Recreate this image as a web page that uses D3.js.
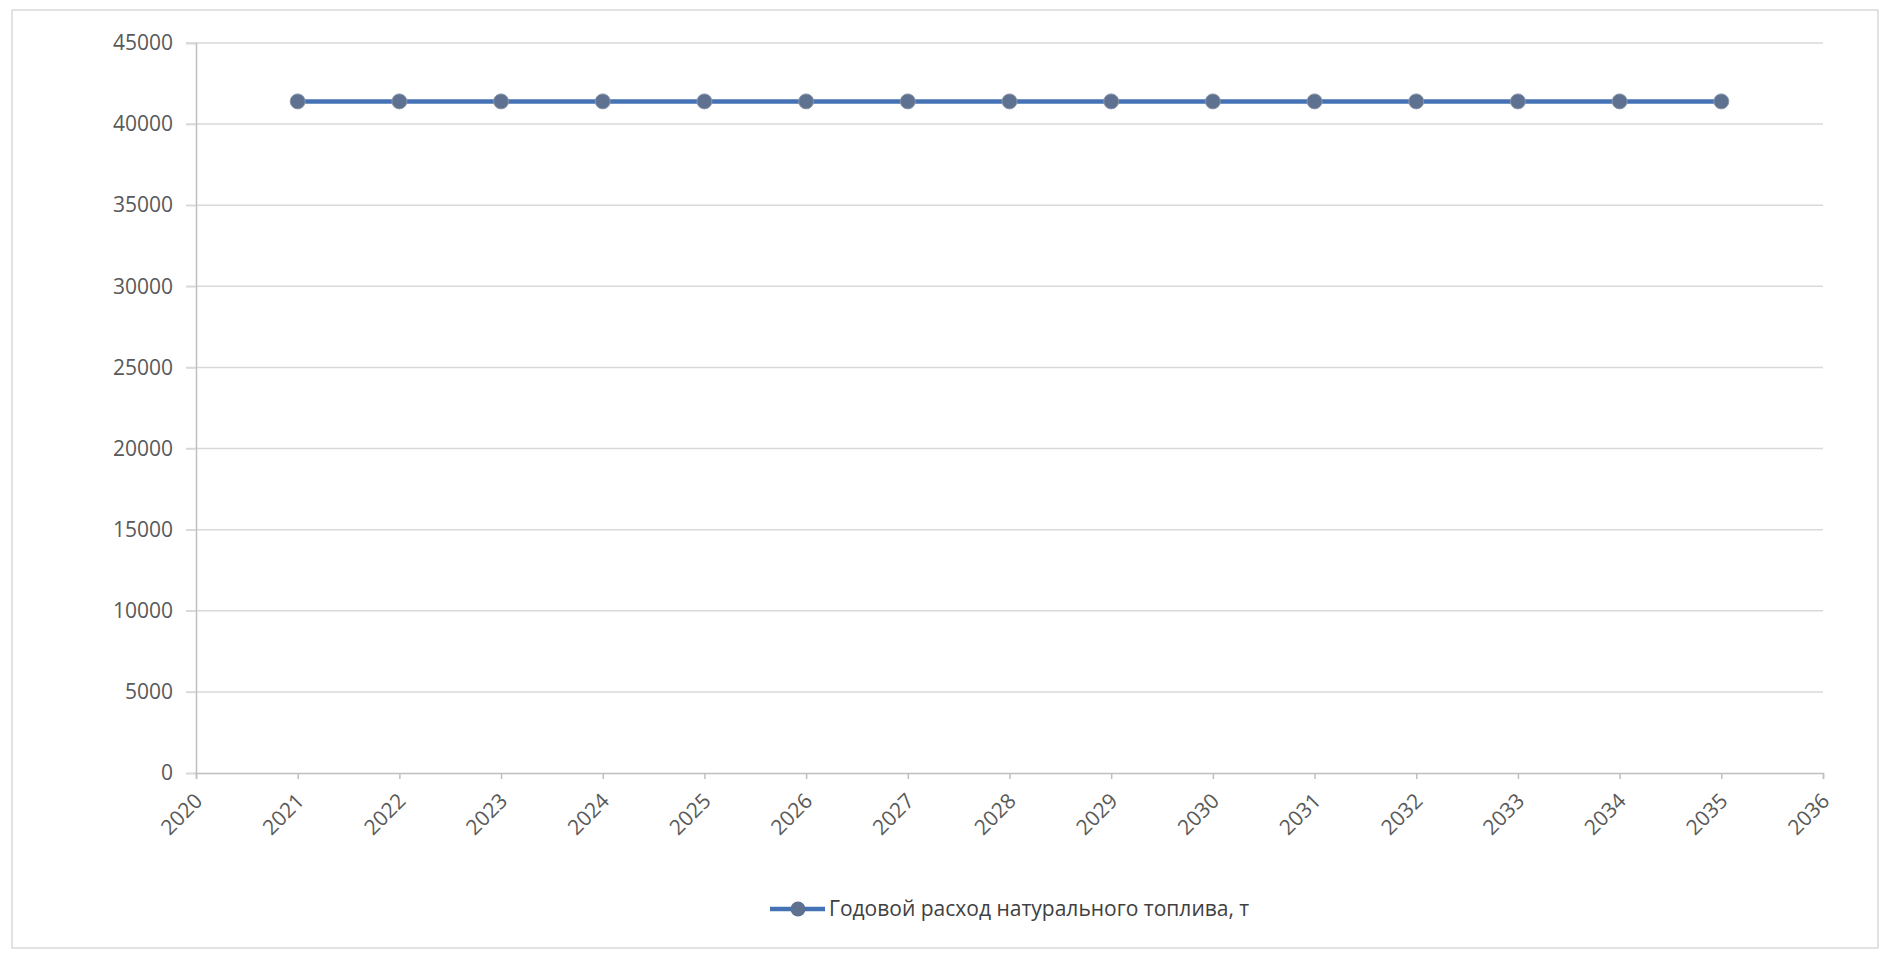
<!DOCTYPE html>
<html><head><meta charset="utf-8">
<script src="https://cdn.jsdelivr.net/npm/d3@7"></script>
<style>
html,body{margin:0;padding:0;background:#fff;}
svg{display:block;}
</style></head>
<body>
<svg id="chart" width="1897" height="956"></svg>
<script>
const years = [2021,2022,2023,2024,2025,2026,2027,2028,2029,2030,2031,2032,2033,2034,2035];
const fuel = [41400,41400,41400,41400,41400,41400,41400,41400,41400,41400,41400,41400,41400,41400,41400];
const yTicks = [0,5000,10000,15000,20000,25000,30000,35000,40000,45000];
const xTicks = [2020,2021,2022,2023,2024,2025,2026,2027,2028,2029,2030,2031,2032,2033,2034,2035,2036];
const seriesName = "Годовой расход натурального топлива, т";

(function(){
const svg = d3.select("#chart");
const font = "'Open Sans', 'Noto Sans', sans-serif";
const mLeft = 196, mRight = 1823, mTop = 43, mBottom = 773;

svg.append("rect").attr("x",12).attr("y",10).attr("width",1866).attr("height",938)
  .attr("fill","#fff").attr("stroke","#d9d9d9").attr("stroke-width",1.5);

const x = d3.scaleLinear().domain([2020,2036]).range([mLeft,mRight]);
const y = d3.scaleLinear().domain([0,45000]).range([mBottom,mTop]);

// gridlines
svg.append("g").selectAll("line").data(yTicks.filter(d=>d>0)).join("line")
  .attr("x1",mLeft-10).attr("x2",mRight).attr("y1",d=>y(d)).attr("y2",d=>y(d))
  .attr("stroke","#d9d9d9").attr("stroke-width",1.5);

// y axis
const yAxis = svg.append("g").attr("transform",`translate(${mLeft},0)`)
  .call(d3.axisLeft(y).tickValues(yTicks).tickSize(10).tickPadding(13).tickFormat(d3.format("d")));
yAxis.select(".domain").attr("stroke","#bfbfbf").attr("stroke-width",1.5);
yAxis.selectAll(".tick line").attr("stroke","#d9d9d9").attr("stroke-width",1.5);
yAxis.selectAll("text").attr("fill","#595959").style("font-family",font).style("font-size","21px");

// x axis
const xAxis = svg.append("g").attr("transform",`translate(0,${mBottom})`)
  .call(d3.axisBottom(x).tickValues(xTicks).tickSize(6).tickFormat(d3.format("d")));
xAxis.select(".domain").attr("stroke","#bfbfbf").attr("stroke-width",1.5);
xAxis.selectAll(".tick line").attr("stroke","#bfbfbf").attr("stroke-width",1.5);
xAxis.selectAll("text").attr("fill","#595959").style("font-family",font).style("font-size","21px")
  .attr("text-anchor","end").attr("dy","0.35em").attr("dx","0")
  .attr("transform","translate(2,24) rotate(-45)").attr("y",0).attr("x",0);

// line
const line = d3.line().x((d,i)=>x(years[i])).y(d=>y(d));
svg.append("path").datum(fuel).attr("d",line).attr("fill","none")
  .attr("stroke","#4472b4").attr("stroke-width",4.5);
svg.append("g").selectAll("circle").data(fuel).join("circle")
  .attr("cx",(d,i)=>x(years[i])).attr("cy",d=>y(d)).attr("r",7.5)
  .attr("fill","#5f7190").attr("stroke","#8a96a8").attr("stroke-width",1);

// legend
const lg = svg.append("g").attr("transform","translate(770,909)");
lg.append("line").attr("x1",0).attr("x2",55).attr("y1",0).attr("y2",0)
  .attr("stroke","#4472b4").attr("stroke-width",4.5);
lg.append("circle").attr("cx",28).attr("cy",0).attr("r",7.5).attr("fill","#5f7190");
lg.append("text").attr("x",59).attr("y",0).attr("dy","0.35em").text(seriesName)
  .attr("fill","#404040").style("font-family",font).style("font-size","21px");
})();
</script>
</body></html>
